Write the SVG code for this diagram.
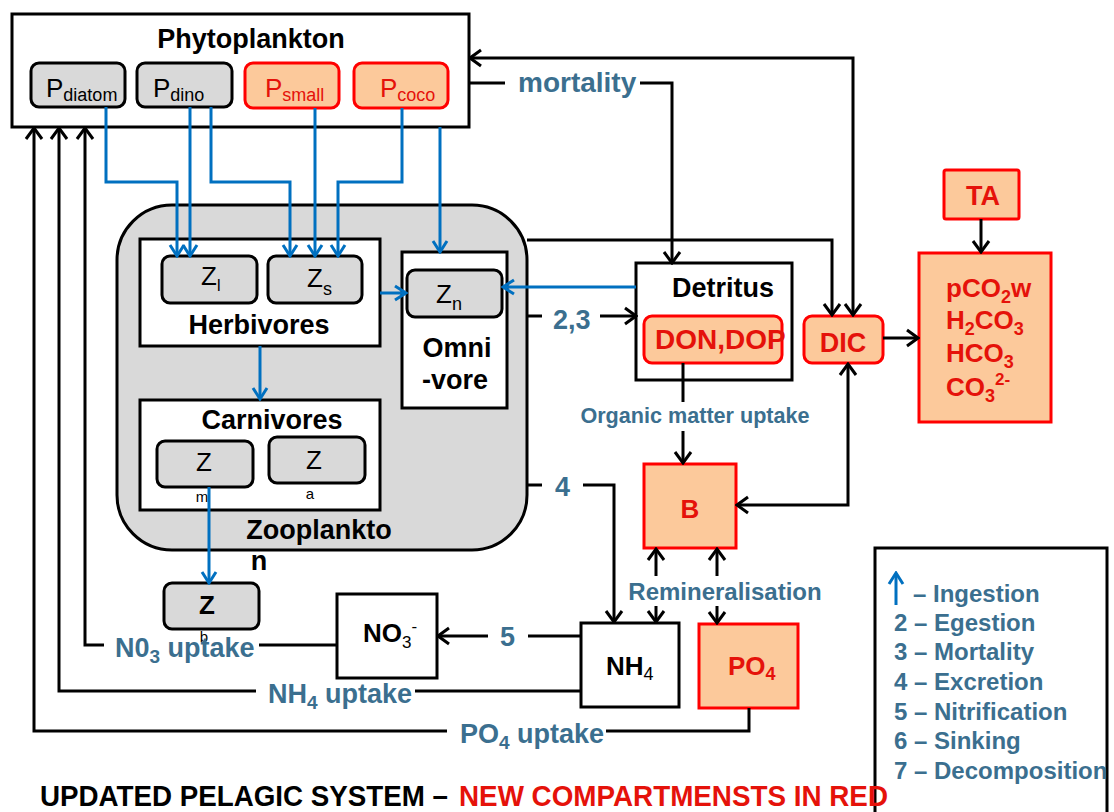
<svg xmlns="http://www.w3.org/2000/svg" width="1114" height="812" viewBox="0 0 1114 812">
<style>
text{font-family:"Liberation Sans",Arial,sans-serif}
.b{font-weight:bold}
.t27{font-size:27px;font-weight:bold;fill:#000}
.lab{font-weight:bold;fill:#3b6f8f}
.red{fill:#e5120a}
.box{fill:#fff;stroke:#000;stroke-width:3}
.gray{fill:#d9d9d9;stroke:#000;stroke-width:3}
.peach{fill:#fcc99b;stroke:#ff0000;stroke-width:3}
.k{fill:none;stroke:#000;stroke-width:3}
.bl{fill:none;stroke:#0070c0;stroke-width:3}
.ka{fill:none;stroke:#000;stroke-width:3;marker-end:url(#ak)}
.kaa{fill:none;stroke:#000;stroke-width:3;marker-end:url(#ak);marker-start:url(#ak)}
.bla{fill:none;stroke:#0070c0;stroke-width:3;marker-end:url(#ab)}
</style>
<defs>
<marker id="ak" viewBox="-14 -11 16 22" markerWidth="16" markerHeight="22" refX="0" refY="0" orient="auto-start-reverse" markerUnits="userSpaceOnUse">
<path d="M-11,-8 L0,0 L-11,8" fill="none" stroke="#000" stroke-width="3"/>
</marker>
<marker id="ab" viewBox="-14 -11 16 22" markerWidth="16" markerHeight="22" refX="0" refY="0" orient="auto-start-reverse" markerUnits="userSpaceOnUse">
<path d="M-11,-7 L0,0 L-11,7" fill="none" stroke="#0070c0" stroke-width="3"/>
</marker>
</defs>
<rect width="1114" height="812" fill="#fff"/>

<g id="phytoplankton">
<rect class="box" x="12" y="14" width="457" height="113"/>
<text class="t27" x="251" y="48" text-anchor="middle">Phytoplankton</text>
</g>
<g id="p-diatom">
<rect class="gray" x="31" y="63" width="94" height="44" rx="8"/>
<text x="46" y="97" font-size="26">P<tspan font-size="18" dy="4">diatom</tspan></text>
</g>
<g id="p-dino">
<rect class="gray" x="137" y="63" width="95" height="44" rx="8"/>
<text x="153" y="97" font-size="26">P<tspan font-size="18" dy="4">dino</tspan></text>
</g>
<g id="p-small">
<rect class="peach" x="245" y="63" width="94" height="45" rx="8"/>
<text class="red" x="265" y="97" font-size="26">P<tspan font-size="18" dy="4">small</tspan></text>
</g>
<g id="p-coco">
<rect class="peach" x="354" y="63" width="94" height="45" rx="8"/>
<text class="red" x="380" y="97" font-size="26">P<tspan font-size="18" dy="4">coco</tspan></text>
</g>

<g id="zooplankton">
<rect class="gray" x="117" y="205" width="410" height="345" rx="55"/>
<text class="t27" x="319" y="539" text-anchor="middle">Zooplankto</text>
<text class="t27" x="259" y="570" text-anchor="middle">n</text>
</g>
<g id="herbivores">
<rect class="box" x="140" y="239" width="240" height="107"/>
<text class="t27" x="259" y="334" text-anchor="middle">Herbivores</text>
</g>
<g id="z-l">
<rect class="gray" x="162" y="256" width="95" height="47" rx="8"/>
<text x="201" y="285" font-size="26">Z<tspan font-size="16" dy="6">l</tspan></text>
</g>
<g id="z-s">
<rect class="gray" x="268" y="256" width="94" height="47" rx="8"/>
<text x="307" y="287" font-size="26">Z<tspan font-size="18" dy="8">s</tspan></text>
</g>
<g id="omnivore">
<rect class="box" x="402" y="252" width="105" height="156"/>
<text class="t27" x="457" y="357" text-anchor="middle">Omni</text>
<text class="t27" x="455" y="389" text-anchor="middle">-vore</text>
</g>
<g id="z-n">
<rect class="gray" x="407" y="270" width="95" height="47" rx="8"/>
<text x="436" y="303" font-size="26">Z<tspan font-size="18" dy="7">n</tspan></text>
</g>
<g id="carnivores">
<rect class="box" x="140" y="400" width="240" height="110"/>
<text class="t27" x="272" y="429" text-anchor="middle">Carnivores</text>
</g>
<g id="z-m">
<rect class="gray" x="157" y="441" width="96" height="46" rx="8"/>
<text x="204" y="471" font-size="26" text-anchor="middle">Z</text>
<text x="202" y="502" font-size="15" text-anchor="middle">m</text>
</g>
<g id="z-a">
<rect class="gray" x="269" y="437" width="96" height="46" rx="8"/>
<text x="314" y="469" font-size="26" text-anchor="middle">Z</text>
<text x="310" y="499" font-size="15" text-anchor="middle">a</text>
</g>
<g id="z-b">
<rect class="gray" x="164" y="583" width="95" height="46" rx="8"/>
<text class="b" x="207" y="614" font-size="26" text-anchor="middle">Z</text>
<text x="204" y="642" font-size="15" text-anchor="middle">b</text>
</g>

<g id="detritus">
<rect class="box" x="636" y="263" width="156" height="117"/>
<text class="t27" x="723" y="297" text-anchor="middle">Detritus</text>
</g>
<g id="don-dop">
<rect class="peach" x="644" y="316" width="138" height="47" rx="8"/>
<text class="b red" x="655" y="349" font-size="28">DON,DOP</text>
</g>
<g id="dic">
<rect class="peach" x="804" y="316" width="79" height="47" rx="8"/>
<text class="b red" x="843" y="352" font-size="27" text-anchor="middle">DIC</text>
</g>
<g id="ta">
<rect class="peach" x="944" y="170" width="75" height="49" rx="2"/>
<text class="b red" x="983" y="205" font-size="27" text-anchor="middle">TA</text>
</g>
<g id="carbonate">
<rect class="peach" x="919" y="253" width="132" height="169"/>
<text class="b red" x="946" y="297" font-size="26">pCO<tspan font-size="18" dy="6">2</tspan><tspan dy="-6">w</tspan></text>
<text class="b red" x="946" y="329" font-size="26">H<tspan font-size="18" dy="6">2</tspan><tspan dy="-6">CO</tspan><tspan font-size="18" dy="6">3</tspan></text>
<text class="b red" x="946" y="362" font-size="26">HCO<tspan font-size="18" dy="6">3</tspan></text>
<text class="b red" x="946" y="396" font-size="26">CO<tspan font-size="18" dy="6">3</tspan><tspan font-size="17" dy="-17">2-</tspan></text>
</g>
<g id="b">
<rect class="peach" x="644" y="464" width="92" height="84"/>
<text class="b red" x="690" y="518" font-size="26" text-anchor="middle">B</text>
</g>
<g id="nh4">
<rect class="box" x="581" y="623" width="98" height="84"/>
<text class="b" x="606" y="675" font-size="26">NH<tspan font-weight="normal" font-size="18" dy="5">4</tspan></text>
</g>
<g id="po4">
<rect class="peach" x="699" y="624" width="99" height="84"/>
<text class="b red" x="728" y="675" font-size="26">PO<tspan font-size="18" dy="5">4</tspan></text>
</g>
<g id="no3">
<rect class="box" x="337" y="594" width="100" height="84"/>
<text class="b" x="363" y="642" font-size="26">NO<tspan font-weight="normal" font-size="17" dy="6">3</tspan><tspan font-weight="normal" font-size="17" dy="-16">-</tspan></text>
</g>

<g id="connectors">
<path class="bla" d="M106,107 V182 H177 V256"/>
<path class="bla" d="M190,107 V256"/>
<path class="bla" d="M211,107 V182 H290 V256"/>
<path class="bla" d="M315,108 V256"/>
<path class="bla" d="M402,108 V182 H338 V256"/>
<path class="bla" d="M440,127 V252"/>
<path class="bla" d="M260,346 V399"/>
<path class="bla" d="M380,293 H406"/>
<path class="bla" d="M636,287 H503"/>
<path class="bla" d="M209,487 V583"/>

<path class="k" d="M749,708 V731 H606"/>
<path class="ka" d="M447,731 H34 V128"/>
<path class="k" d="M581,691 H415"/>
<path class="ka" d="M256,691 H59 V128"/>
<path class="k" d="M337,645 H259"/>
<path class="ka" d="M104,645 H85 V128"/>
<path class="k" d="M581,636 H528"/>
<path class="ka" d="M488,636 H438"/>
<path class="k" d="M469,83 H505"/>
<path class="ka" d="M640,83 H672 V263"/>
<path class="kaa" d="M853,315 V58 H470"/>
<path class="ka" d="M527,240 H832 V315"/>
<path class="k" d="M527,316 H542"/>
<path class="ka" d="M600,316 H636"/>
<path class="k" d="M683,363 V402"/>
<path class="ka" d="M683,431 V463"/>
<path class="ka" d="M883,338 H918"/>
<path class="ka" d="M981,219 V252"/>
<path class="kaa" d="M848,364 V505 H737"/>
<path class="k" d="M527,485 H542"/>
<path class="ka" d="M583,485 H614 V622"/>
<path class="ka" d="M656,576 V549"/>
<path class="ka" d="M717,576 V549"/>
<path class="ka" d="M656,606 V622"/>
<path class="ka" d="M717,606 V623"/>
</g>

<g id="labels">
<text class="lab" x="518" y="92" font-size="28">mortality</text>
<text class="lab" x="553" y="329" font-size="27">2,3</text>
<text class="lab" x="555" y="496" font-size="27">4</text>
<text class="lab" x="500" y="646" font-size="27">5</text>
<text class="lab" x="695" y="423" font-size="21.6" text-anchor="middle">Organic matter uptake</text>
<text class="lab" x="725" y="600" font-size="24" text-anchor="middle">Remineralisation</text>
<text class="lab" x="115" y="657" font-size="27">N0<tspan font-size="19" dy="6">3</tspan><tspan dy="-6"> uptake</tspan></text>
<text class="lab" x="268" y="703" font-size="27">NH<tspan font-size="19" dy="6">4</tspan><tspan dy="-6"> uptake</tspan></text>
<text class="lab" x="460" y="743" font-size="27">PO<tspan font-size="19" dy="6">4</tspan><tspan dy="-6"> uptake</tspan></text>
</g>

<g id="legend">
<rect x="875" y="548" width="232" height="300" fill="none" stroke="#000" stroke-width="3"/>
<path class="bla" d="M896,605 V573"/>
<text class="lab" x="913" y="602" font-size="24">– Ingestion</text>
<text class="lab" x="894" y="631" font-size="24">2 – Egestion</text>
<text class="lab" x="894" y="660" font-size="24">3 – Mortality</text>
<text class="lab" x="894" y="690" font-size="24">4 – Excretion</text>
<text class="lab" x="894" y="720" font-size="24">5 – Nitrification</text>
<text class="lab" x="894" y="749" font-size="24">6 – Sinking</text>
<text class="lab" x="894" y="779" font-size="24">7 – Decomposition</text>
</g>

<g id="title">
<text class="b" x="40" y="806" font-size="29" textLength="408" lengthAdjust="spacingAndGlyphs">UPDATED PELAGIC SYSTEM –</text>
<text class="b" x="459" y="806" font-size="29" fill="#e5120a" textLength="429" lengthAdjust="spacingAndGlyphs">NEW COMPARTMENSTS IN RED</text>
</g>
</svg>
